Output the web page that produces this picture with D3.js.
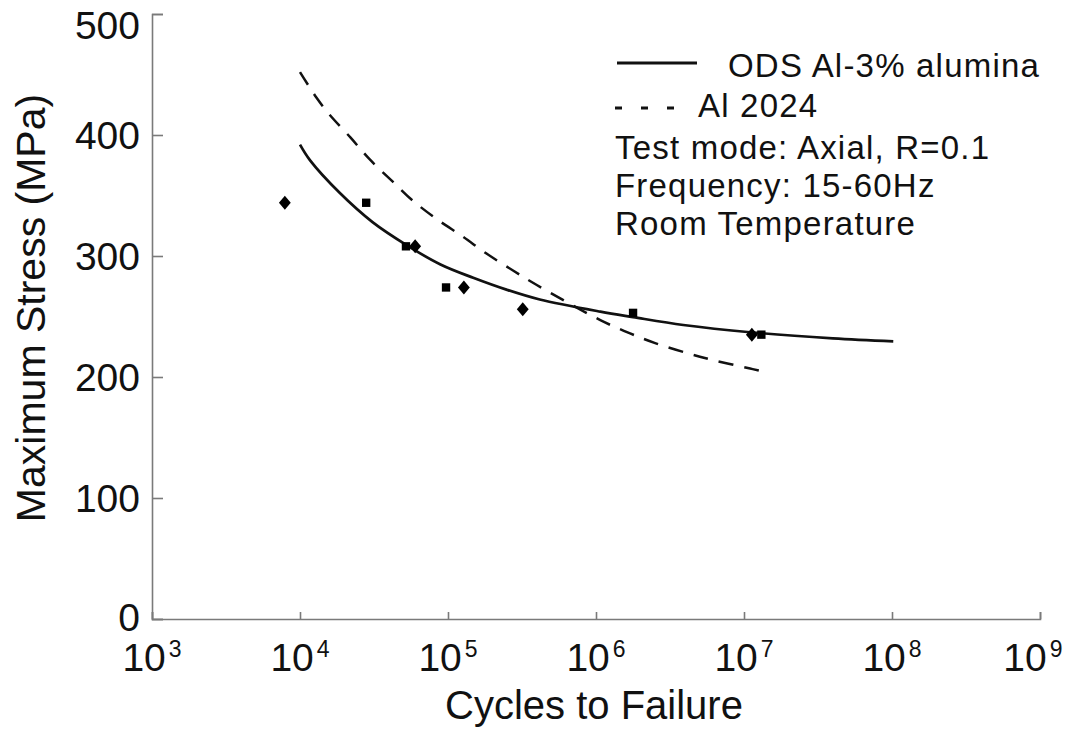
<!DOCTYPE html>
<html>
<head>
<meta charset="utf-8">
<script src="https://cdn.jsdelivr.net/npm/d3@7"></script>
<style>
  html, body { margin: 0; padding: 0; background: #fff; }
  svg { display: block; font-family: "Liberation Sans", Arial, Helvetica, sans-serif; }
</style>
</head>
<body>
<svg id="chart" width="1065" height="731"></svg>
<script>
// S-N data: cycles to failure vs maximum stress (MPa)

// ODS Al-3% alumina fitted curve
const odsCycles = [1.0e4, 1.17e4, 1.86e4, 3.09e4, 5.25e4, 8.9e4, 1.48e5, 2.51e5, 4.17e5, 1.07e6, 1.78e6, 3.89e6, 1.1e7, 3.98e7, 1.02e8];
const odsStress = [392, 379, 352, 328, 309, 293, 282, 272, 264, 254, 249.5, 243, 237, 232, 229.5];

// Al 2024 reference curve
const al2024Cycles = [1.0e4, 1.29e4, 1.58e4, 2.19e4, 2.95e4, 4.27e4, 5.75e4, 8.5e4, 1.26e5, 1.82e5, 2.75e5, 3.98e5, 1.07e6, 1.7e6, 2.51e6, 4.07e6, 6.17e6, 1.1e7, 1.29e7];
const al2024Stress = [452, 431, 417, 398, 380, 361, 346, 330, 316, 302, 288, 276, 247, 236, 228, 220, 214, 207, 205];

// Test specimens
const testCycles = [7.9e3, 2.8e4, 5.2e4, 6.0e4, 9.7e4, 1.28e5, 3.2e5, 1.78e6, 1.13e7, 1.31e7];
const testStress = [344, 344, 308, 308, 274, 274, 256, 253, 235, 235];
const testShape = ["diamond", "square", "square", "diamond", "square", "diamond", "diamond", "square", "diamond", "square"];

// Axis ticks
const yTicks = [0, 100, 200, 300, 400, 500];
const xTickExponents = [3, 4, 5, 6, 7, 8, 9];

// Legend and notes
const legendSeries = ["ODS Al-3% alumina", "Al 2024"];
const notes = ["Test mode: Axial, R=0.1", "Frequency: 15-60Hz", "Room Temperature"];

const W = 1065;
const svg = d3.select("#chart");

const x = d3.scaleLog().domain([1e3, 1e9]).range([152, 1040]);
const y = d3.scaleLinear().domain([0, 500]).range([619, 14]);

const axisColor = "#7a7a7a";
const ink = "#111";

// Y axis (ticks point inward)
const yAxis = d3.axisLeft(y).tickValues(yTicks).tickSize(-11).tickFormat("");
const gy = svg.append("g").attr("transform", `translate(${x.range()[0]},0)`).call(yAxis);
gy.select(".domain").attr("stroke", axisColor).attr("stroke-width", 1.6);
gy.selectAll(".tick line").attr("stroke", axisColor).attr("stroke-width", 1.6);

svg.append("g").selectAll("text").data(yTicks).join("text")
  .attr("x", 140)
  // keep the top label inside the page
  .attr("y", d => Math.max(y(d), 25) - (d === 0 ? 2 : 0))
  .attr("dy", "0.36em")
  .attr("text-anchor", "end")
  .attr("font-size", 39)
  .attr("fill", ink)
  .text(d => d);

// X axis (ticks point inward)
const xAxis = d3.axisBottom(x).tickValues(xTickExponents.map(e => Math.pow(10, e))).tickSize(-7).tickFormat("");
const gx = svg.append("g").attr("transform", `translate(0,${y(0)})`).call(xAxis);
gx.select(".domain").attr("stroke", axisColor).attr("stroke-width", 1.6);
gx.selectAll(".tick line").attr("stroke", axisColor).attr("stroke-width", 1.6);

const xLabels = svg.append("g").selectAll("text").data(xTickExponents).join("text")
  .attr("x", d => x(Math.pow(10, d)))
  .attr("y", 671)
  .attr("text-anchor", "middle")
  .attr("fill", ink);
xLabels.append("tspan").attr("font-size", 39).text("10");
xLabels.append("tspan").attr("font-size", 23).attr("dx", 3).attr("dy", -14).text(d => d);
// pull any label back that would run past the right edge
xLabels.each(function () {
  const t = d3.select(this);
  const w = this.getComputedTextLength();
  const cx = +t.attr("x");
  if (cx + w / 2 > W - 4) t.attr("x", W - 4 - w / 2);
});

// Axis titles
svg.append("text")
  .attr("x", 594).attr("y", 719)
  .attr("text-anchor", "middle")
  .attr("font-size", 40)
  .attr("fill", ink)
  .text("Cycles to Failure");

svg.append("text")
  .attr("transform", "translate(45,308) rotate(-90)")
  .attr("text-anchor", "middle")
  .attr("font-size", 41)
  .attr("fill", ink)
  .text("Maximum Stress (MPa)");

// Curves
const line = d3.line().x(d => x(d[0])).y(d => y(d[1])).curve(d3.curveCatmullRom.alpha(0.5));

svg.append("path")
  .datum(d3.zip(al2024Cycles, al2024Stress))
  .attr("d", line)
  .attr("fill", "none")
  .attr("stroke", ink)
  .attr("stroke-width", 2.5)
  .attr("stroke-dasharray", "15,11");

svg.append("path")
  .datum(d3.zip(odsCycles, odsStress))
  .attr("d", line)
  .attr("fill", "none")
  .attr("stroke", ink)
  .attr("stroke-width", 2.7);

// Specimen markers
const symbolFor = {
  diamond: d3.symbol().type(d3.symbolDiamond).size(78),
  square: d3.symbol().type(d3.symbolSquare).size(70)
};
svg.append("g").selectAll("path")
  .data(d3.zip(testCycles, testStress, testShape))
  .join("path")
  .attr("transform", d => `translate(${x(d[0])},${y(d[1])})` + (d[2] === "diamond" ? " scale(1.25,0.85)" : ""))
  .attr("d", d => symbolFor[d[2]]())
  .attr("fill", "#000");

// Legend
const leg = svg.append("g");
const legFont = 33, legSpacing = 1.2;
leg.append("line").attr("x1", 617).attr("x2", 697).attr("y1", 63).attr("y2", 63)
  .attr("stroke", ink).attr("stroke-width", 3);
leg.append("text").attr("x", 728).attr("y", 77).attr("font-size", legFont).attr("letter-spacing", legSpacing)
  .attr("fill", ink).text(legendSeries[0]);
leg.append("line").attr("x1", 615).attr("x2", 674).attr("y1", 108).attr("y2", 108)
  .attr("stroke", ink).attr("stroke-width", 3).attr("stroke-dasharray", "7,19");
leg.append("text").attr("x", 698).attr("y", 117).attr("font-size", legFont).attr("letter-spacing", legSpacing)
  .attr("fill", ink).text(legendSeries[1]);

leg.selectAll("text.note").data(notes).join("text")
  .attr("class", "note")
  .attr("x", 615)
  .attr("y", (d, i) => 159 + i * 38)
  .attr("font-size", legFont)
  .attr("letter-spacing", legSpacing)
  .attr("fill", ink)
  .text(d => d);
</script>
</body>
</html>
